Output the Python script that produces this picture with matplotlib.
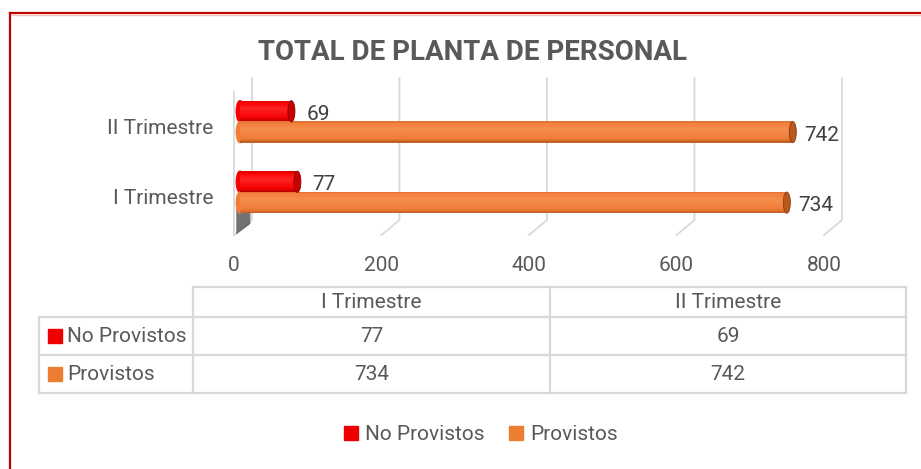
import numpy as np
import matplotlib.pyplot as plt
from matplotlib.lines import Line2D
from matplotlib.patches import Ellipse, Patch, Polygon
from matplotlib.colors import to_rgb

# data
categories = ["I Trimestre", "II Trimestre"]
series = ["No Provistos", "Provistos"]
no_provistos = [77, 69]
provistos = [734, 742]
ticks = [0, 200, 400, 600, 800]
title = "TOTAL DE PLANTA DE PERSONAL"

plt.rcParams['font.family'] = ['Roboto', 'DejaVu Sans']
GRAY = "#595959"
GRID = "#D9D9D9"

W, H = 921, 469
fig = plt.figure(figsize=(W / 100, H / 100), dpi=100)
fig.patch.set_facecolor("white")

def fx(x): return x / W
def fy(y): return 1 - y / H

def fline(xs, ys, **kw):
    fig.add_artist(Line2D([fx(x) for x in xs], [fy(y) for y in ys], **kw))

# outer border (only top/left visible)
fline([10, W], [13, 13], color="#C00000", lw=1.6)
fline([10, 10], [13, H], color="#C00000", lw=1.6)
fline([12, W], [15.5, 15.5], color="#F3C4C4", lw=1.0)

fig.text(fx(472), fy(52), title, ha="center", va="center", fontsize=20,
         fontweight="bold", color=GRAY)

# plot area
ax = fig.add_axes([fx(240), fy(235), fx(836) - fx(240), fy(78) - fy(235)])
ax.set_xlim(0, 800)
ax.set_ylim(-0.607, 1.62)
ax.axis("off")

# 3D-ish walls / gridlines
back = lambda t: 16 + t * 0.99
front = lambda t: -8 + t * 0.99
for t in ticks:
    ax.plot([back(t), back(t), front(t)], [1.62, -0.394, -0.607], color=GRID,
            lw=1.3, clip_on=False, zorder=1)
    ax.text(front(t), -1.033, str(t), ha="center", va="center", fontsize=15,
            color=GRAY, clip_on=False)
ax.plot([front(0), front(0)], [1.42, -0.607], color=GRID, lw=1.3, clip_on=False, zorder=1)

h = 0.3
off = 0.148
knots = [0, 0.2, 0.62, 0.92, 1]

def cylinder(y, val, cols, cap, edge):
    rgb = np.array([to_rgb(c) for c in cols])
    n = 16
    edges = np.linspace(y - h / 2, y + h / 2, n + 1)
    ax.add_patch(Ellipse((0, y), 10, h, color=cols[1], zorder=2, clip_on=False))
    for k in range(n):
        t = (k + 0.5) / n
        c = [np.interp(t, knots, rgb[:, j]) for j in range(3)]
        ax.barh(edges[k], val, height=h / n + 0.002, align="edge", color=c,
                lw=0, zorder=3)
    ax.add_patch(Ellipse((val, y), 9.5, h, facecolor=cap, edgecolor=edge,
                         lw=0.6, zorder=4, clip_on=False))

red_cols = ["#B00000", "#F50000", "#FF2424", "#F80000", "#D80000"]
org_cols = ["#B85C22", "#F07C37", "#F68D4C", "#F3803C", "#D86E30"]

# floor shadow under first bar
ax.add_patch(Polygon([[-5, -0.17], [14, -0.2], [14, -0.45], [-5, -0.6]],
                     closed=True, color="#5A5A5A", alpha=0.85, lw=0, zorder=1,
                     clip_on=False))

for i, cat in enumerate(categories):
    cylinder(i + off, no_provistos[i], red_cols, "#C40000", "#9A0000")
    cylinder(i - off, provistos[i], org_cols, "#B9581F", "#8A3E12")
    ax.annotate(str(no_provistos[i]), (no_provistos[i], i + off), xytext=(15, -3),
                textcoords="offset pixels", va="center", ha="left", fontsize=15,
                color="#404040")
    ax.annotate(str(provistos[i]), (provistos[i], i - off), xytext=(11, -3),
                textcoords="offset pixels", va="center", ha="left", fontsize=15,
                color="#404040")
    ax.text(-36, i - 0.093, cat, ha="right", va="center", fontsize=15, color=GRAY,
            clip_on=False)

# data table
colors = ["#EE0000", "#ED7D31"]
rows = [no_provistos, provistos]
xs = [39, 193, 550, 906]
ys = [287, 317, 355, 393]
kw = dict(color=GRID, lw=1.6)
fline([xs[1], xs[3]], [ys[0], ys[0]], **kw)
for y in ys[1:]:
    fline([xs[0], xs[3]], [y, y], **kw)
fline([xs[0], xs[0]], [ys[1], ys[3]], **kw)
for x in xs[1:]:
    fline([x, x], [ys[0], ys[3]], **kw)
for j, cat in enumerate(categories):
    cx = (xs[j + 1] + xs[j + 2]) / 2
    fig.text(fx(cx), fy((ys[0] + ys[1]) / 2), cat, ha="center", va="center",
             fontsize=15, color=GRAY)
    for r in range(2):
        fig.text(fx(cx), fy((ys[r + 1] + ys[r + 2]) / 2), str(rows[r][j]),
                 ha="center", va="center", fontsize=15, color=GRAY)
for r, name in enumerate(series):
    cy = (ys[r + 1] + ys[r + 2]) / 2
    fig.patches.append(plt.Rectangle((fx(48), fy(cy + 7)), fx(14), 14 / H,
                                     transform=fig.transFigure, color=colors[r]))
    fig.text(fx(67), fy(cy), name, ha="left", va="center", fontsize=15, color=GRAY)

# legend
handles = [Patch(color=c, label=s) for c, s in zip(colors, series)]
fig.legend(handles=handles, loc="center", bbox_to_anchor=(fx(481), fy(435)),
           ncol=2, frameon=False, fontsize=15, labelcolor=GRAY,
           handlelength=0.67, handleheight=0.67, handletextpad=0.35,
           columnspacing=1.2)

fig.savefig("out.png", dpi=100)
